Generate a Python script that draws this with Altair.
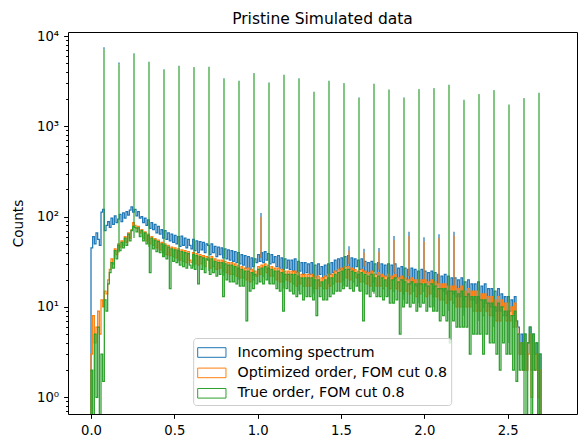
import altair as alt
import pandas as pd

SERIES = ["Incoming spectrum", "Optimized order, FOM cut 0.8", "True order, FOM cut 0.8"]
COLORS = ["#1f77b4", "#ff7f0e", "#2ca02c"]
BIN_WIDTH = 0.01
ZERO = 0.1  # empty bins (drawn below the log axis, clipped)

# Continuum counts per 0.01-wide bin, starting at 0.00 (one row = 0.1 of the x range)
incoming = [
    45, 60, 50, 66, 56, 48, 112, 120, 70, 80,
    88, 76, 96, 82, 102, 86, 94, 106, 88, 110,
    96, 114, 104, 118, 128, 112, 120, 102, 114, 96,
    100, 86, 96, 80, 92, 74, 86, 72, 82, 66,
    78, 64, 72, 58, 70, 56, 66, 54, 64, 52,
    62, 50, 60, 47, 61, 48, 58, 45, 56, 48,
    44, 56, 42, 54, 40, 53, 43, 52, 40, 50,
    48, 38, 50, 40, 47, 36, 46, 38, 45, 35,
    44, 34, 43, 33, 42, 32, 41, 31, 40, 30,
    38, 29, 37, 27, 36, 26, 35, 28, 34, 31,
    38, 32, 40, 31, 41, 33, 39, 30, 38, 31,
    36, 28, 37, 27, 35, 26, 34, 27, 33, 26,
    33, 25, 34, 24, 32, 25, 31, 23, 31, 24,
    30, 23, 31, 22, 29, 21, 30, 23, 28, 21,
    29, 22, 30, 23, 31, 24, 33, 25, 34, 26,
    35, 27, 36, 28, 37, 26, 35, 25, 34, 28,
    33, 26, 34, 25, 32, 24, 31, 23, 32, 25,
    30, 23, 31, 22, 30, 21, 29, 22, 30, 21,
    29, 20, 30, 21, 27, 20, 28, 19, 27, 20,
    26, 18, 27, 19, 26, 17, 25, 18, 26, 19,
    25, 17, 24, 18, 25, 16, 24, 17, 23, 16,
    22, 15, 23, 14, 22, 15, 21, 14, 21, 13,
    20, 13, 21, 12, 19, 13, 20, 12, 18, 12,
    18, 11, 19, 12, 17, 10, 18, 11, 16, 10,
    16, 10, 15, 9, 16, 9, 14, 10, 13, 8,
    13, 9, 12, 8, 13, 7, 6, 3, 5, 3,
    5, 2, 4, 6, 2, 5, 3, 4, 2, 3,
]
optimized = [
    3, 8, 4, 6, 9, 5, 12, 10, 15, 14,
    20, 26, 34, 30, 44, 38, 50, 46, 54, 48,
    60, 52, 66, 58, 72, 86, 80, 74, 78, 66,
    72, 58, 68, 54, 64, 50, 60, 48, 57, 45,
    55, 43, 52, 40, 50, 38, 48, 37, 46, 36,
    45, 35, 44, 33, 43, 32, 42, 31, 41, 33,
    31, 40, 30, 39, 29, 38, 30, 37, 28, 36,
    35, 27, 36, 28, 34, 26, 33, 27, 33, 25,
    32, 24, 31, 23, 31, 23, 30, 22, 29, 21,
    28, 21, 27, 20, 27, 19, 26, 20, 25, 22,
    28, 23, 29, 22, 30, 24, 29, 22, 28, 22,
    27, 20, 27, 19, 26, 19, 25, 20, 25, 19,
    25, 18, 25, 17, 24, 18, 23, 17, 23, 17,
    23, 17, 23, 16, 22, 16, 22, 17, 21, 16,
    22, 16, 23, 17, 23, 18, 25, 19, 26, 19,
    27, 20, 28, 21, 28, 20, 27, 19, 26, 21,
    25, 19, 26, 19, 25, 18, 24, 17, 25, 19,
    23, 17, 24, 17, 23, 16, 22, 17, 23, 16,
    22, 15, 23, 16, 21, 15, 22, 14, 21, 15,
    20, 14, 21, 15, 20, 13, 20, 14, 20, 15,
    20, 13, 19, 14, 20, 13, 19, 13, 18, 12,
    18, 12, 18, 11, 17, 12, 17, 11, 17, 10,
    16, 10, 17, 10, 15, 10, 16, 10, 15, 9,
    15, 9, 15, 9, 14, 8, 14, 9, 13, 8,
    13, 8, 12, 7, 13, 7, 12, 8, 11, 7,
    11, 7, 10, 6, 11, 6, 5, 3, 4, 2,
    4, 2, 3, 5, 1, 4, 2, 3, 1, 2,
]
true_order = [
    2, 0, 5, 1, 6, 0, 3, 1.5, 12, 9,
    18, 24, 31, 27, 42, 34, 48, 42, 52, 45,
    58, 48, 64, 54, 70, 78, 76, 68, 75, 60,
    70, 54, 66, 50, 62, 24, 58, 44, 55, 41,
    53, 40, 50, 36, 48, 34, 46, 16, 44, 32,
    43, 31, 42, 29, 41, 28, 40, 27, 39, 29,
    27, 38, 26, 37, 18, 36, 26, 35, 24, 34,
    33, 23, 34, 24, 32, 22, 31, 23, 31, 13,
    30, 20, 29, 19, 29, 19, 28, 18, 27, 17,
    26, 17, 25, 7, 25, 15, 24, 16, 23, 18,
    26, 19, 27, 18, 28, 20, 27, 18, 26, 18,
    25, 16, 25, 15, 24, 9, 23, 16, 23, 15,
    23, 14, 23, 13, 22, 14, 21, 12, 21, 13,
    21, 13, 21, 12, 20, 8, 20, 13, 19, 12,
    20, 12, 21, 13, 21, 14, 23, 15, 24, 15,
    25, 16, 26, 17, 26, 16, 25, 15, 24, 17,
    23, 15, 24, 7, 23, 14, 22, 13, 23, 15,
    21, 13, 22, 13, 21, 12, 20, 13, 21, 11,
    20, 11, 21, 12, 19, 5, 20, 10, 19, 11,
    18, 10, 19, 11, 18, 9, 18, 10, 18, 11,
    18, 9, 17, 10, 18, 9, 17, 9, 16, 7,
    16, 8, 16, 7, 15, 4, 15, 7, 15, 6,
    14, 6, 15, 6, 13, 6, 14, 3, 13, 5,
    13, 5, 13, 5, 12, 3, 12, 5, 11, 4,
    11, 4, 10, 3, 11, 2, 10, 4, 9, 3,
    9, 3, 8, 2, 9, 1.5, 5, 2, 4, 2,
    5, 0, 4, 6, 0, 5, 2, 4, 0, 3,
]

# Narrow calibration lines (single-bin spikes)
peak_x = [0.078, 0.168, 0.258, 0.348, 0.438, 0.528, 0.618, 0.708, 0.798, 0.888,
          0.978, 1.068, 1.158, 1.248, 1.338, 1.428, 1.518, 1.608, 1.698, 1.788,
          1.878, 1.968, 2.058, 2.148, 2.238, 2.328, 2.418, 2.508, 2.598, 2.688]
peak_incoming = [7500, 5100, 6450, 5200, 4280, 4690, 4540, 4580, 3400, 3200,
                 3890, 3050, 3730, 3400, 2420, 3200, 3020, 2080, 2970, 2560,
                 2080, 2590, 2650, 2890, 1970, 2280, 2520, 1750, 2060, 2360]
peak_true = [7130, 4860, 6370, 5150, 4240, 4650, 4500, 4540, 3370, 3170,
             3860, 3020, 3700, 3370, 2400, 3170, 2990, 2060, 2940, 2540,
             2060, 2570, 2630, 2870, 1950, 2260, 2500, 1730, 2040, 2340]
peak_base = [10, 40, 58, 46, 36, 32, 28, 25, 22, 20, 22, 18, 16, 15, 14, 18, 17, 15, 14, 13,
             12, 11, 10, 9, 8, 7, 6, 4, 0.5, 0.5]

# Small extra lines only seen in the incoming / optimized spectra
side_x = [1.02, 1.548, 1.638, 1.728, 1.818, 1.908, 1.998, 2.088, 2.178]
side_incoming = [110, 47, 44, 45, 61, 68, 59, 64, 68]
side_optimized = [100, 42, 40, 41, 55, 61, 53, 58, 62]
side_base = [35, 30, 28, 26, 24, 22, 20, 18, 16]


def step_rows(name, counts):
    rows = [{"series": name, "order": 0, "x": 0.0, "y": ZERO}]
    for i, c in enumerate(counts):
        rows.append({"series": name, "order": i + 1, "x": round(i * BIN_WIDTH, 5),
                     "y": c if c > 0 else ZERO})
    n = len(counts)
    last = counts[-1] if counts[-1] > 0 else ZERO
    rows.append({"series": name, "order": n + 1, "x": round(n * BIN_WIDTH, 5), "y": last})
    rows.append({"series": name, "order": n + 2, "x": round(n * BIN_WIDTH, 5), "y": ZERO})
    return rows


lines_df = pd.DataFrame(step_rows(SERIES[0], incoming) + step_rows(SERIES[1], optimized)
                        + step_rows(SERIES[2], true_order))

spike_rows = []
for x, t, b in zip(side_x, side_incoming, side_base):
    spike_rows.append({"series": SERIES[0], "x": x, "top": t, "base": b})
for x, t, b in zip(peak_x, peak_incoming, peak_true):
    spike_rows.append({"series": SERIES[0], "x": x, "top": t, "base": b})
for x, t, b in zip(side_x, side_optimized, side_base):
    spike_rows.append({"series": SERIES[1], "x": x, "top": t, "base": b})
for x, t, b in zip(peak_x, peak_true, peak_base):
    spike_rows.append({"series": SERIES[2], "x": x, "top": t, "base": b})
spikes_df = pd.DataFrame(spike_rows)

FONT = "DejaVu Sans"
TICK_FS = 13.2

x_scale = alt.Scale(domain=[-0.138, 2.916], nice=False, zero=False)
y_scale = alt.Scale(type="log", domain=[0.653, 11076], nice=False)
color_scale = alt.Scale(domain=SERIES, range=COLORS)

major = [1, 10, 100, 1000, 10000]
minor = [0.7, 0.8, 0.9, 2, 3, 4, 5, 6, 7, 8, 9, 20, 30, 40, 50, 60, 70, 80, 90,
         200, 300, 400, 500, 600, 700, 800, 900, 2000, 3000, 4000, 5000, 6000, 7000, 8000, 9000]

x_axis = alt.Axis(values=[0, 0.5, 1.0, 1.5, 2.0, 2.5], format=".1f", title=None,
                  tickSize=4.4, labelPadding=6, grid=False, domain=False,
                  labelFontSize=TICK_FS, labelFont=FONT, labelColor="black", tickColor="black",
                  labelFlush=False)
y_axis = alt.Axis(values=major + minor, title="Counts", grid=False, domain=False,
                  tickSize={"condition": {"test": "indexof([1,10,100,1000,10000], datum.value) >= 0",
                                          "value": 4.4}, "value": 2.4},
                  labelExpr="datum.value == 1 ? '10⁰' : datum.value == 10 ? '10¹' : "
                            "datum.value == 100 ? '10²' : datum.value == 1000 ? '10³' : "
                            "datum.value == 10000 ? '10⁴' : ''",
                  labelOverlap=False, labelFlush=False, labelPadding=5,
                  labelFontSize=TICK_FS, labelFont=FONT, labelColor="black", tickColor="black",
                  titleFontSize=13.6, titleFont=FONT, titleFontWeight="normal", titleColor="black",
                  titlePadding=11)

# legend swatch: 28 px wide outlined rectangle, drawn from a small symbol size so rows stay compact
legend = alt.Legend(title=None, orient="none", legendX=125.2, legendY=306,
                    symbolType="M-1,-0.48H1.828V0.48H-1Z", symbolSize=400, symbolStrokeWidth=1,
                    symbolFillColor="transparent", labelLimit=400,
                    labelFontSize=14.2, labelFont=FONT, labelColor="black", labelOffset=19.3,
                    padding=4, rowPadding=2.4, fillColor="rgba(255,255,255,0.8)",
                    strokeColor="#cccccc", cornerRadius=3)

layers = []
for k, name in enumerate(SERIES):
    leg = legend if k == 0 else None
    line = alt.Chart(lines_df).transform_filter(alt.datum.series == name).mark_line(
        interpolate="step-after", strokeWidth=1.25, clip=True
    ).encode(
        x=alt.X("x:Q", scale=x_scale, axis=x_axis),
        y=alt.Y("y:Q", scale=y_scale, axis=y_axis),
        order="order:Q",
        color=alt.Color("series:N", scale=color_scale, legend=leg),
    )
    spikes = alt.Chart(spikes_df).transform_filter(alt.datum.series == name).mark_rule(
        strokeWidth=1.2, clip=True
    ).encode(
        x=alt.X("x:Q", scale=x_scale),
        y=alt.Y("top:Q", scale=y_scale),
        y2="base:Q",
        color=alt.Color("series:N", scale=color_scale, legend=None),
    )
    layers += [line, spikes]

chart = alt.layer(*layers).properties(
    width=509, height=382,
    title=alt.TitleParams("Pristine Simulated data", fontSize=15.5, font=FONT,
                          fontWeight="normal", color="black", offset=2, anchor="middle"),
    padding={"left": 68, "top": 32, "right": 2, "bottom": 26},
    autosize=alt.AutoSizeParams(type="none"),
    background="white",
).configure_view(stroke="black", strokeWidth=1)

chart.save("out.html", embed_options={"renderer": "svg", "actions": False})
